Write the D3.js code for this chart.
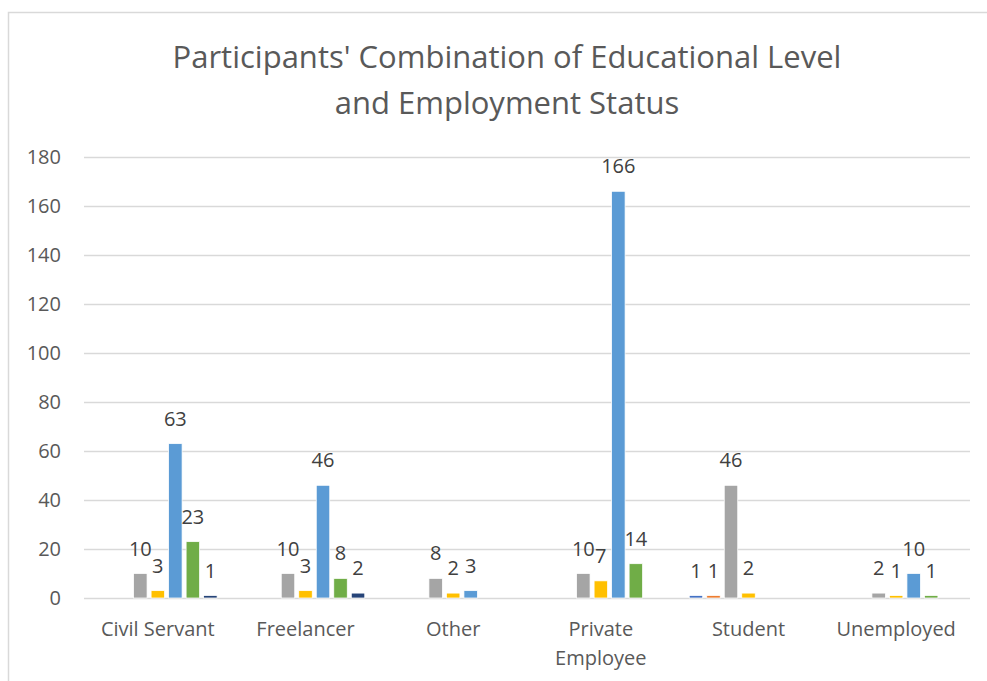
<!DOCTYPE html>
<html>
<head>
<meta charset="utf-8">
<script src="https://cdn.jsdelivr.net/npm/d3@7"></script>
<style>
  body { margin: 0; background: #fff; }
  text { font-family: "Open Sans", sans-serif; }
</style>
</head>
<body>
<div id="mainDiv"></div>
<script>
// categories along the x axis
var categories = ["Civil Servant", "Freelancer", "Other", "Private Employee", "Student", "Unemployed"];

// one series per education level (names not shown in the picture, no legend)
var seriesNames = ["s1", "s2", "s3", "s4", "s5", "s6", "s7"];
var seriesColors = ["#4472C4", "#ED7D31", "#A5A5A5", "#FFC000", "#5B9BD5", "#70AD47", "#264478"];

// values per series, in category order; null = empty cell
var s1 = [null, null, null, null, 1, null];
var s2 = [null, null, null, null, 1, null];
var s3 = [10, 10, 8, 10, 46, 2];
var s4 = [3, 3, 2, 7, 2, 1];
var s5 = [63, 46, 3, 166, null, 10];
var s6 = [23, 8, null, 14, null, 1];
var s7 = [1, 2, null, null, null, null];
var seriesValues = [s1, s2, s3, s4, s5, s6, s7];

var yTicks = [0, 20, 40, 60, 80, 100, 120, 140, 160, 180];

var width = 987, height = 681;
var margin = { left: 84, right: 17, top: 157, bottom: 83 };

var svg = d3.select("#mainDiv").append("svg")
    .attr("width", width).attr("height", height);

// chart frame
svg.append("rect")
    .attr("x", 8.5).attr("y", 12.5)
    .attr("width", 1000).attr("height", 800)
    .attr("fill", "none").attr("stroke", "#d9d9d9").attr("stroke-width", 1.5);

// title
var title = svg.append("text")
    .attr("text-anchor", "middle")
    .attr("fill", "#595959")
    .attr("font-size", 31);
title.append("tspan").attr("x", 507).attr("y", 68).text("Participants' Combination of Educational Level");
title.append("tspan").attr("x", 507).attr("y", 114).text("and Employment Status");

var x0 = d3.scaleBand()
    .domain(categories)
    .range([margin.left, width - margin.right])
    .paddingInner(0.17)
    .paddingOuter(0.085);

var x1 = d3.scaleBand()
    .domain(seriesNames)
    .range([0, x0.bandwidth()])
    .paddingInner(0.23)
    .paddingOuter(0.115);

var y = d3.scaleLinear()
    .domain([0, 180])
    .range([height - margin.bottom, margin.top]);

// gridlines + y labels
var yAxis = svg.append("g")
    .attr("transform", "translate(" + margin.left + ",0)")
    .call(d3.axisLeft(y).tickValues(yTicks)
        .tickSize(-(width - margin.left - margin.right)).tickPadding(23));
yAxis.select(".domain").remove();
yAxis.selectAll(".tick line").attr("stroke", "#d9d9d9").attr("stroke-width", 1.5);
yAxis.selectAll(".tick text")
    .attr("fill", "#595959").attr("font-size", 20)
    .attr("font-family", "Open Sans, sans-serif");

// bars
var flat = [];
seriesValues.forEach(function(vals, si) {
    vals.forEach(function(v, ci) {
        if (v !== null) flat.push({ series: seriesNames[si], color: seriesColors[si], cat: categories[ci], value: v });
    });
});

var bars = svg.append("g");
bars.selectAll("rect").data(flat).enter().append("rect")
    .attr("x", function(d) { return x0(d.cat) + x1(d.series); })
    .attr("y", function(d) { return y(d.value); })
    .attr("width", x1.bandwidth())
    .attr("height", function(d) { return y(0) - y(d.value); })
    .attr("fill", function(d) { return d.color; })
    .attr("stroke", "#ffffff").attr("stroke-width", 0.75);

// data labels
bars.selectAll("text").data(flat).enter().append("text")
    .attr("x", function(d) { return x0(d.cat) + x1(d.series) + x1.bandwidth() / 2; })
    .attr("y", function(d) { return y(d.value) - 18; })
    .attr("text-anchor", "middle")
    .attr("fill", "#404040")
    .attr("font-size", 20)
    .text(function(d) { return d.value; });

// category labels
var xLabels = svg.append("g");
categories.forEach(function(c) {
    var t = xLabels.append("text")
        .attr("text-anchor", "middle")
        .attr("fill", "#595959")
        .attr("font-size", 20);
    var cx = x0(c) + x0.bandwidth() / 2;
    var parts = c === "Private Employee" ? ["Private", "Employee"] : [c];
    parts.forEach(function(p, i) {
        t.append("tspan").attr("x", cx).attr("y", 636 + i * 29).text(p);
    });
});
</script>
</body>
</html>
